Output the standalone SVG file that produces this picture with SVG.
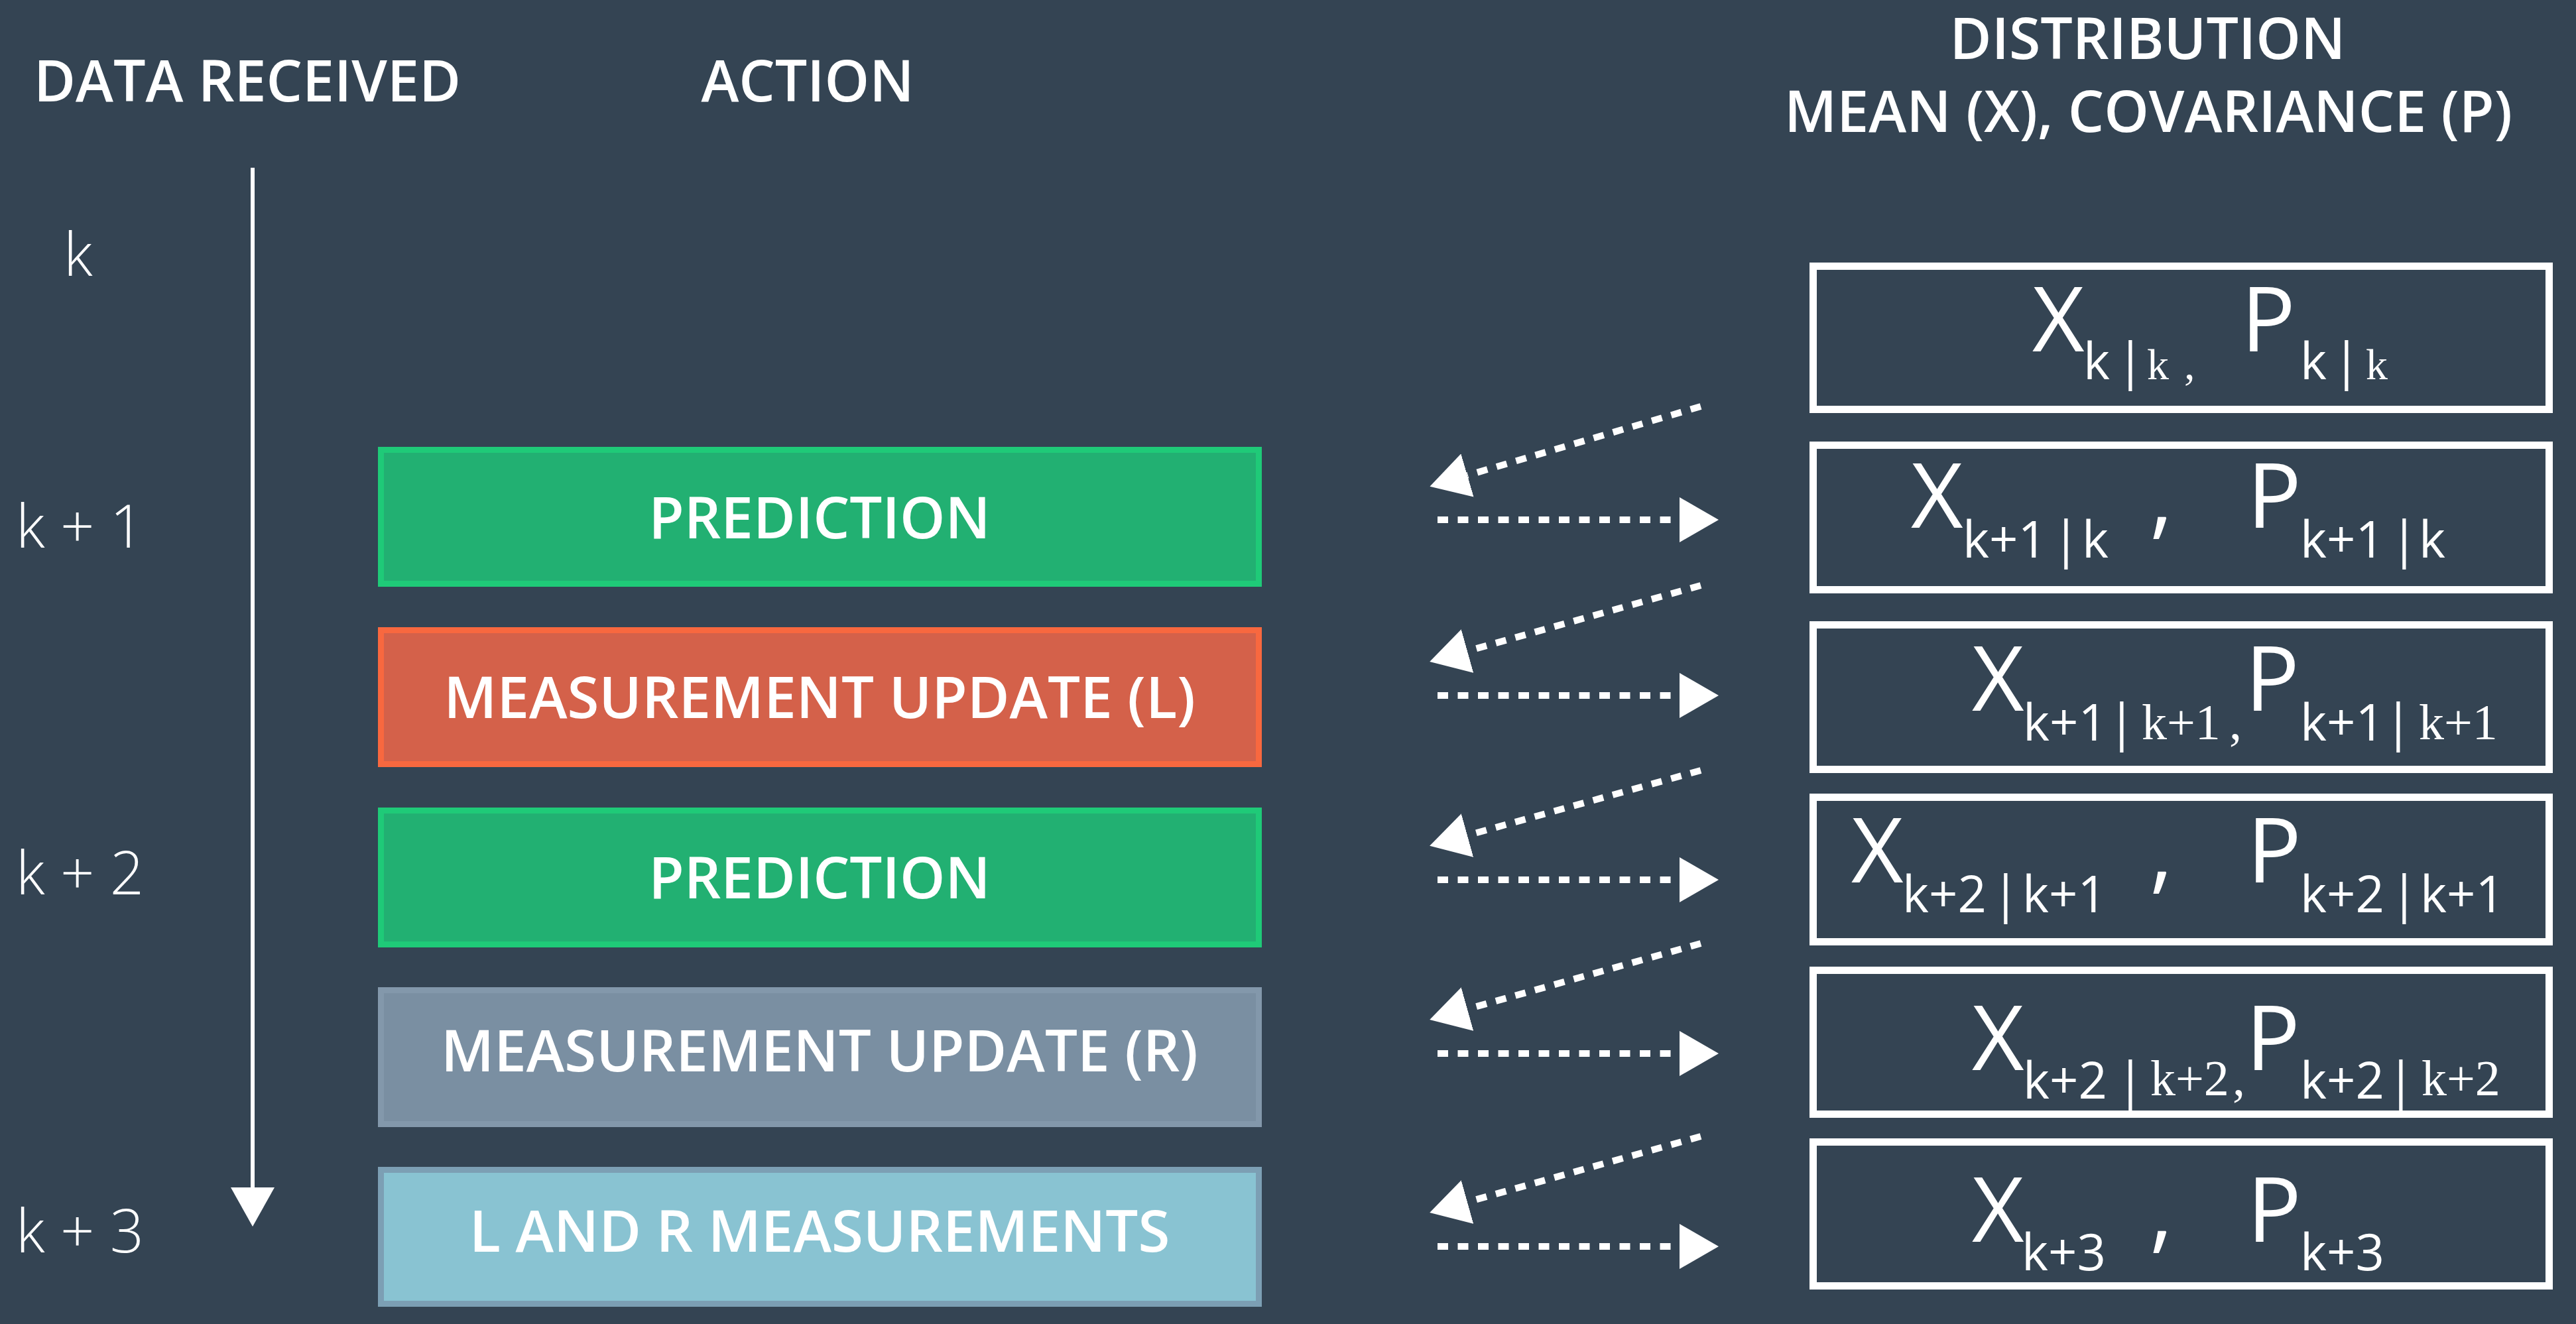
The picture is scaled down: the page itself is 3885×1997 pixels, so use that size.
<svg xmlns="http://www.w3.org/2000/svg" width="3885" height="1997" viewBox="0 0 3885 1997">
  <defs>
    <style>
      .hdr { font-family: "Open Sans", "Noto Sans", sans-serif; font-weight: 600; font-size: 86px; fill: #ffffff; text-anchor: middle; }
      .time { font-family: "Open Sans", "Noto Sans", sans-serif; font-weight: 300; font-size: 90px; fill: #ffffff; }
      .act { font-family: "Open Sans", "Noto Sans", sans-serif; font-weight: 600; font-size: 87px; fill: #ffffff; text-anchor: middle; }
      .dist { fill: none; stroke: #ffffff; stroke-width: 11; }
      .eq { font-family: "Open Sans", "Noto Sans", sans-serif; font-weight: 400; font-size: 136px; fill: #ffffff; }
      .sub { font-size: 76px; }
      .ser { font-family: "Liberation Serif", "Times New Roman", serif; font-size: 76px; }
      .ser1 { font-family: "Liberation Serif", "Times New Roman", serif; font-size: 66px; }
      .flow { stroke: #ffffff; stroke-width: 10; stroke-dasharray: 16 14.5; fill: none; marker-end: url(#tri); }
      .pred { fill: #22b072; stroke: #1fca78; stroke-width: 9; }
      .meas-l { fill: #d4614a; stroke: #f8683f; stroke-width: 9; }
      .meas-r { fill: #7a8fa2; stroke: #8398ab; stroke-width: 9; }
      .both { fill: #89c3d2; stroke: #7c9fb4; stroke-width: 9; }
    </style>
    <marker id="tri" viewBox="0 -34 59 68" refX="0" refY="0" markerWidth="59" markerHeight="68" markerUnits="userSpaceOnUse" orient="auto">
      <path d="M0,-34 L59,0 L0,34 Z" fill="#ffffff"/>
    </marker>
    <marker id="timehead" viewBox="0 -33 59 66" refX="0" refY="0" markerWidth="59" markerHeight="66" markerUnits="userSpaceOnUse" orient="auto">
      <path d="M0,-33 L59,0 L0,33 Z" fill="#ffffff"/>
    </marker>
  </defs>

  <rect x="0" y="0" width="3885" height="1997" fill="#344453"/>

  <!-- column headers -->
  <g id="headers">
    <text class="hdr" x="373" y="153">DATA RECEIVED</text>
    <text class="hdr" x="1218" y="153">ACTION</text>
    <text class="hdr" x="3239" y="89">DISTRIBUTION</text>
    <text class="hdr" x="3240" y="199">MEAN (X), COVARIANCE (P)</text>
  </g>

  <!-- time axis -->
  <g id="time-axis">
    <line x1="381" y1="253" x2="381" y2="1791" stroke="#ffffff" stroke-width="6" marker-end="url(#timehead)"/>
    <text class="time" x="96" y="416">k</text>
    <text class="time" x="24" y="826">k + 1</text>
    <text class="time" x="24" y="1349">k + 2</text>
    <text class="time" x="24" y="1889">k + 3</text>
  </g>

  <!-- action nodes -->
  <g id="action-prediction-1">
    <rect class="pred" x="574.5" y="678.5" width="1324" height="202"/>
    <text class="act" x="1236" y="812">PREDICTION</text>
  </g>
  <g id="action-measurement-l">
    <rect class="meas-l" x="574.5" y="950.5" width="1324" height="202"/>
    <text class="act" x="1236" y="1083">MEASUREMENT UPDATE (L)</text>
  </g>
  <g id="action-prediction-2">
    <rect class="pred" x="574.5" y="1222.5" width="1324" height="202"/>
    <text class="act" x="1236" y="1355">PREDICTION</text>
  </g>
  <g id="action-measurement-r">
    <rect class="meas-r" x="574.5" y="1493.5" width="1324" height="202"/>
    <text class="act" x="1236" y="1616">MEASUREMENT UPDATE (R)</text>
  </g>
  <g id="action-lr-measurements">
    <rect class="both" x="574.5" y="1764.5" width="1324" height="202"/>
    <text class="act" x="1236" y="1888">L AND R MEASUREMENTS</text>
  </g>

  <!-- distribution nodes -->
  <g id="dist-k-k">
    <rect class="dist" x="2734.5" y="401.5" width="1110" height="216"/>
    <text class="eq"><tspan x="3065" y="530">X</tspan><tspan class="sub" x="3142" y="572">k</tspan><tspan class="sub" x="3192" y="572">|</tspan><tspan class="ser1" x="3238" y="572">k</tspan><tspan class="ser1" x="3294" y="572">,</tspan><tspan x="3380" y="530">P</tspan><tspan class="sub" x="3469" y="572">k</tspan><tspan class="sub" x="3518" y="572">|</tspan><tspan class="ser1" x="3568" y="572">k</tspan></text>
  </g>
  <g id="dist-k1-k">
    <rect class="dist" x="2734.5" y="671.5" width="1110" height="218"/>
    <text class="eq"><tspan x="2882" y="796">X</tspan><tspan class="sub" x="2960" y="841">k+1</tspan><tspan class="sub" x="3095" y="841">|</tspan><tspan class="sub" x="3140" y="841">k</tspan><tspan x="3242" y="796">,</tspan><tspan x="3389" y="796">P</tspan><tspan class="sub" x="3469" y="841">k+1</tspan><tspan class="sub" x="3605" y="841">|</tspan><tspan class="sub" x="3648" y="841">k</tspan></text>
  </g>
  <g id="dist-k1-k1">
    <rect class="dist" x="2734.5" y="942.5" width="1110" height="218"/>
    <text class="eq"><tspan x="2974" y="1072">X</tspan><tspan class="sub" x="3051" y="1117">k+1</tspan><tspan class="sub" x="3179" y="1117">|</tspan><tspan class="ser" x="3230" y="1115">k+1</tspan><tspan class="ser" x="3362" y="1115">,</tspan><tspan x="3386" y="1072">P</tspan><tspan class="sub" x="3469" y="1117">k+1</tspan><tspan class="sub" x="3596" y="1117">|</tspan><tspan class="ser" x="3648" y="1115">k+1</tspan></text>
  </g>
  <g id="dist-k2-k1">
    <rect class="dist" x="2734.5" y="1202.5" width="1110" height="218"/>
    <text class="eq"><tspan x="2792" y="1331">X</tspan><tspan class="sub" x="2869" y="1376">k+2</tspan><tspan class="sub" x="3004" y="1376">|</tspan><tspan class="sub" x="3050" y="1376">k+1</tspan><tspan x="3242" y="1331">,</tspan><tspan x="3389" y="1331">P</tspan><tspan class="sub" x="3469" y="1376">k+2</tspan><tspan class="sub" x="3605" y="1376">|</tspan><tspan class="sub" x="3650" y="1376">k+1</tspan></text>
  </g>
  <g id="dist-k2-k2">
    <rect class="dist" x="2734.5" y="1463.5" width="1110" height="217"/>
    <text class="eq"><tspan x="2974" y="1614">X</tspan><tspan class="sub" x="3051" y="1657">k+2</tspan><tspan class="sub" x="3192" y="1657">|</tspan><tspan class="ser" x="3243" y="1652">k+2</tspan><tspan class="ser" x="3367" y="1652">,</tspan><tspan x="3387" y="1614">P</tspan><tspan class="sub" x="3469" y="1657">k+2</tspan><tspan class="sub" x="3600" y="1657">|</tspan><tspan class="ser" x="3652" y="1652">k+2</tspan></text>
  </g>
  <g id="dist-k3">
    <rect class="dist" x="2734.5" y="1722.5" width="1110" height="217"/>
    <text class="eq"><tspan x="2974" y="1873">X</tspan><tspan class="sub" x="3049" y="1916">k+3</tspan><tspan x="3242" y="1873">,</tspan><tspan x="3389" y="1873">P</tspan><tspan class="sub" x="3469" y="1916">k+3</tspan></text>
  </g>

  <!-- connectors: previous estimate into each action, result out to the next estimate -->
  <g id="connectors">
    <line class="flow" x1="2565" y1="613" x2="2213" y2="717"/>
    <line class="flow" x1="2168" y1="784" x2="2533" y2="784"/>
    <line class="flow" x1="2565" y1="883" x2="2213" y2="982"/>
    <line class="flow" x1="2168" y1="1049" x2="2533" y2="1049"/>
    <line class="flow" x1="2565" y1="1162" x2="2213" y2="1260"/>
    <line class="flow" x1="2168" y1="1327" x2="2533" y2="1327"/>
    <line class="flow" x1="2565" y1="1423" x2="2213" y2="1522"/>
    <line class="flow" x1="2168" y1="1589" x2="2533" y2="1589"/>
    <line class="flow" x1="2565" y1="1714" x2="2213" y2="1813"/>
    <line class="flow" x1="2168" y1="1880" x2="2533" y2="1880"/>
  </g>
</svg>
